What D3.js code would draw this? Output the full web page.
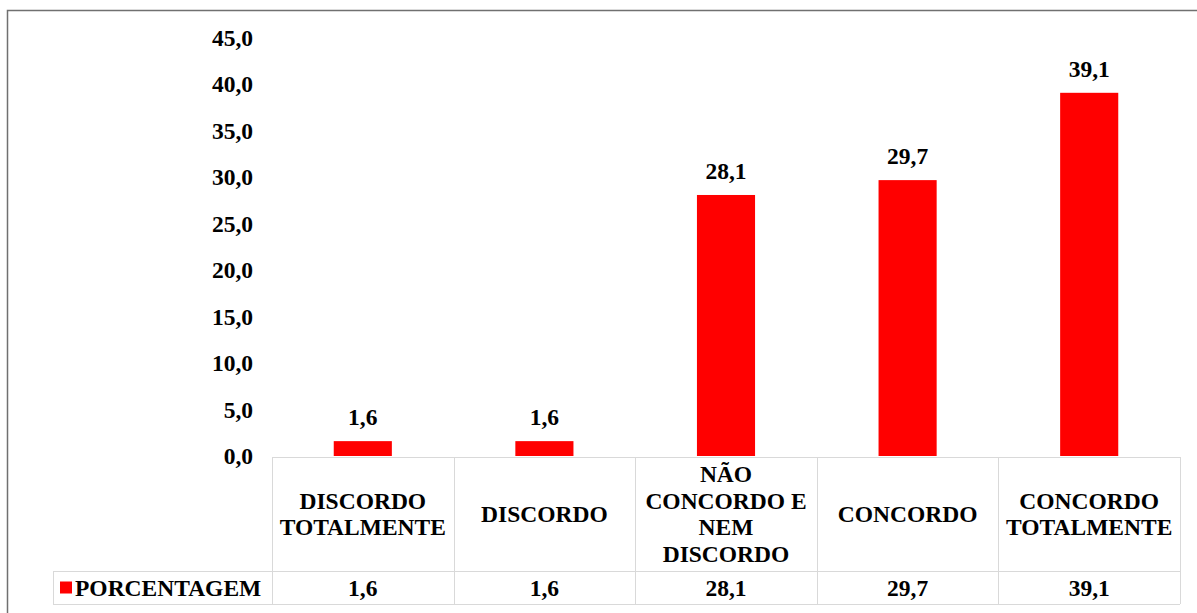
<!DOCTYPE html>
<html>
<head>
<meta charset="utf-8">
<script src="https://cdn.jsdelivr.net/npm/d3@7"></script>
<style>
  html, body { margin: 0; padding: 0; background: #fff; }
  svg text { font-family: "Liberation Serif", "Times New Roman", Times, "DejaVu Serif", serif; font-weight: bold; }
</style>
</head>
<body>
<div id="vis"></div>
<script>
/* data */
let categories = [
  ["DISCORDO", "TOTALMENTE"],
  ["DISCORDO"],
  ["NÃO", "CONCORDO E", "NEM", "DISCORDO"],
  ["CONCORDO"],
  ["CONCORDO", "TOTALMENTE"]
];
let values = [1.6, 1.6, 28.1, 29.7, 39.1];
let seriesName = "PORCENTAGEM";
let yTicks = [0, 5, 10, 15, 20, 25, 30, 35, 40, 45];

/* display */
let width = 1197;
let height = 613;
let barColor = "#ff0000";
let gridColor = "#d9d9d9";
let fontSize = 23.5;

/* geometry */
let boundsX = [272, 1180];
let boundsY = [38, 456];
let tableY = [457, 571, 604];
let legendX = 53;

let fmt = v => d3.format(".1f")(v).replace(".", ",");

let x = d3.scaleBand()
  .domain(d3.range(values.length))
  .range(boundsX)
  .paddingInner(0.68)
  .paddingOuter(0.34);
let col = d3.scaleBand()
  .domain(d3.range(values.length))
  .range(boundsX);
let y = d3.scaleLinear()
  .domain([0, 45])
  .range([boundsY[1], boundsY[0]]);

let svg = d3.select("#vis").append("svg")
  .attr("width", width)
  .attr("height", height)
  .style("display", "block");

/* outer frame (top and left edges only) */
svg.append("path")
  .attr("d", "M7.5," + height + "V10.5H" + width)
  .attr("stroke", "#707070")
  .attr("stroke-width", 1.5)
  .attr("fill", "none");

/* y axis labels, no line */
let yAxis = d3.axisLeft(y).tickValues(yTicks).tickFormat(fmt).tickSize(0).tickPadding(0);
let ya = svg.append("g")
  .attr("transform", "translate(253,0)")
  .call(yAxis);
ya.select(".domain").remove();
ya.attr("font-family", null);
ya.selectAll("text")
  .attr("font-size", fontSize)
  .attr("fill", "#000");

/* bars */
svg.append("g").selectAll("rect")
  .data(values)
  .join("rect")
    .attr("x", (d, i) => x(i))
    .attr("width", x.bandwidth())
    .attr("y", d => y(d))
    .attr("height", d => y(0) - y(d))
    .attr("fill", barColor);

/* value labels */
svg.append("g").selectAll("text")
  .data(values)
  .join("text")
    .attr("x", (d, i) => x(i) + x.bandwidth() / 2)
    .attr("y", d => y(d) - 16)
    .attr("text-anchor", "middle")
    .attr("font-size", fontSize)
    .text(fmt);

/* data table grid */
let grid = d3.path();
grid.moveTo(boundsX[0], tableY[0] + .5); grid.lineTo(boundsX[1], tableY[0] + .5);
grid.moveTo(legendX, tableY[1] + .5); grid.lineTo(boundsX[1], tableY[1] + .5);
grid.moveTo(legendX, tableY[2] + .5); grid.lineTo(boundsX[1], tableY[2] + .5);
grid.moveTo(legendX + .5, tableY[1]); grid.lineTo(legendX + .5, tableY[2]);
for (let i = 0; i <= values.length; i++) {
  let cx = Math.round(boundsX[0] + i * col.step()) + .5;
  grid.moveTo(cx, tableY[0]);
  grid.lineTo(cx, tableY[2]);
}
svg.append("path")
  .attr("d", grid.toString())
  .attr("stroke", gridColor)
  .attr("fill", "none");

/* category headers */
let lineH = 26.5;
let heads = svg.append("g").selectAll("text")
  .data(categories)
  .join("text")
    .attr("text-anchor", "middle")
    .attr("font-size", fontSize)
    .attr("transform", (d, i) => {
      let cx = col(i) + col.bandwidth() / 2;
      let cy = (tableY[0] + tableY[1]) / 2 - (d.length - 1) * lineH / 2;
      return "translate(" + cx + "," + cy + ")";
    });
heads.selectAll("tspan")
  .data(d => d)
  .join("tspan")
    .attr("x", 0)
    .attr("y", (d, i) => i * lineH)
    .attr("dy", "0.35em")
    .text(d => d);

/* table values */
svg.append("g").selectAll("text")
  .data(values)
  .join("text")
    .attr("x", (d, i) => col(i) + col.bandwidth() / 2)
    .attr("y", (tableY[1] + tableY[2]) / 2)
    .attr("dy", "0.35em")
    .attr("text-anchor", "middle")
    .attr("font-size", fontSize)
    .text(fmt);

/* legend cell */
let midRow = (tableY[1] + tableY[2]) / 2;
svg.append("rect")
  .attr("x", 60)
  .attr("y", midRow - 6)
  .attr("width", 12)
  .attr("height", 12)
  .attr("fill", barColor);
svg.append("text")
  .attr("x", 75)
  .attr("y", midRow)
  .attr("dy", "0.35em")
  .attr("font-size", fontSize)
  .text(seriesName);
</script>
</body>
</html>
